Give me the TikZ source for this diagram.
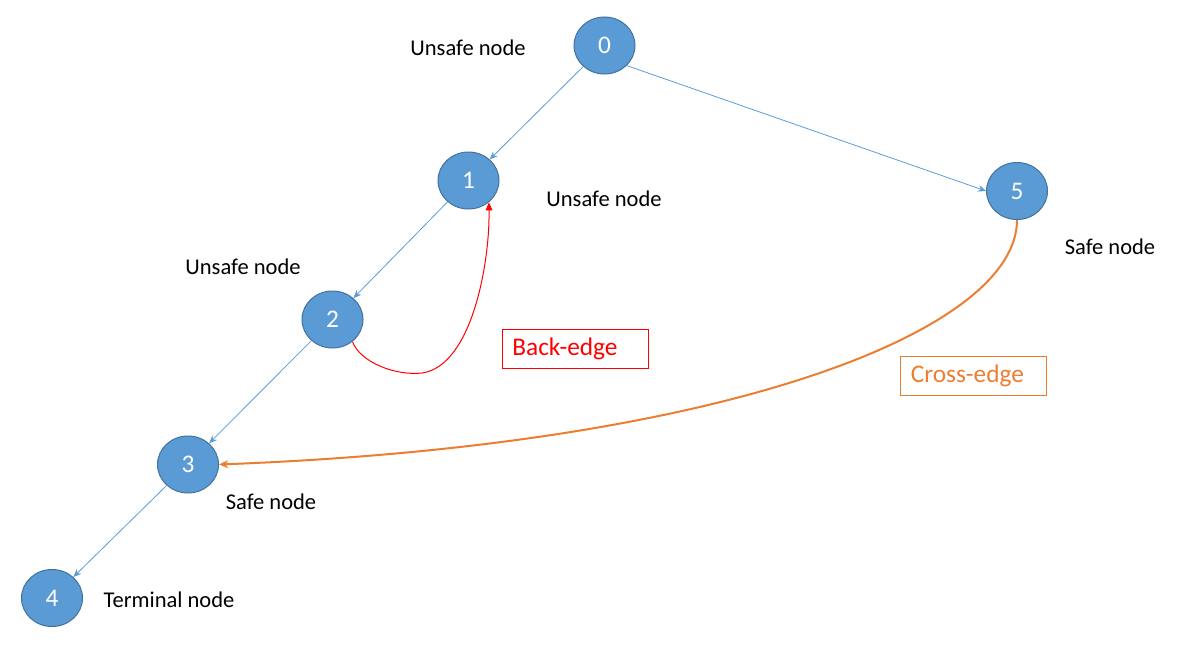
\documentclass[tikz,border=0pt]{standalone}
\usepackage{fontspec}
\setmainfont{Carlito}
\usetikzlibrary{shapes.geometric,arrows.meta}
\definecolor{nodeblue}{HTML}{5B9BD5}
\definecolor{nodeedge}{HTML}{41719C}
\definecolor{crossorange}{HTML}{ED7D31}
\definecolor{backred}{HTML}{FF0000}
\tikzset{
  vnode/.style={ellipse, fill=nodeblue, draw=nodeedge, line width=0.75pt,
    minimum width=45.75pt, minimum height=42.75pt, inner sep=0pt,
    text=white, font=\fontsize{19}{22}\selectfont},
  lbl/.style={font=\fontsize{16.9}{19}\selectfont, text=black, inner sep=0pt},
  treeedge/.style={draw=nodeblue, line width=0.6pt, -{Stealth[length=6pt,width=5pt]}},
  tagbox/.style={draw, line width=0.75pt, minimum width=109.5pt, minimum height=29pt,
    inner sep=0pt, font=\fontsize{19}{22}\selectfont},
}
\begin{document}
\begin{tikzpicture}[x=0.75pt,y=-0.75pt]
\useasboundingbox (0,0) rectangle (1183,646);
\node[vnode] (n0) at (604.5,45.5) {0};
\node[vnode] (n1) at (468.5,180.5) {1};
\node[vnode] (n2) at (332.5,319.5) {2};
\node[vnode] (n3) at (188,464.5) {3};
\node[vnode] (n4) at (52,598) {4};
\node[vnode] (n5) at (1017,191) {5};

\node[lbl] (l0) at (468,48) {Unsafe node};
\node[lbl] (l1) at (604,199) {Unsafe node};
\node[lbl] (l2) at (243,267) {Unsafe node};
\node[lbl] (l5) at (1110,247) {Safe node};
\node[lbl] (l3) at (271,502) {Safe node};
\node[lbl] (l4) at (169,600) {Terminal node};

\node[tagbox, draw=backred, text=backred, text width=94pt, align=left] (be) at (575,349) {Back-edge};
\node[tagbox, draw=crossorange, text=crossorange, text width=94pt, align=left] (ce) at (973.5,376) {Cross-edge};

\draw[treeedge] (n0) -- (n1);
\draw[treeedge] (n0.-42) -- (n5.180);
\draw[treeedge] (n1) -- (n2);
\draw[treeedge] (n2) -- (n3);
\draw[treeedge] (n3) -- (n4);

\draw[backred, line width=0.75pt, -{Triangle[length=6pt,width=5pt]}]
  (n2.-48) .. controls (360,362) and (395,376) .. (422,373)
  .. controls (472,366) and (490,262) .. (n1.-47);
\draw[crossorange, line width=1.5pt, -{Stealth[length=7pt,width=6pt]}]
  (n5.south) .. controls (1017,330) and (730,445) .. (n3.east);
\end{tikzpicture}
\end{document}
